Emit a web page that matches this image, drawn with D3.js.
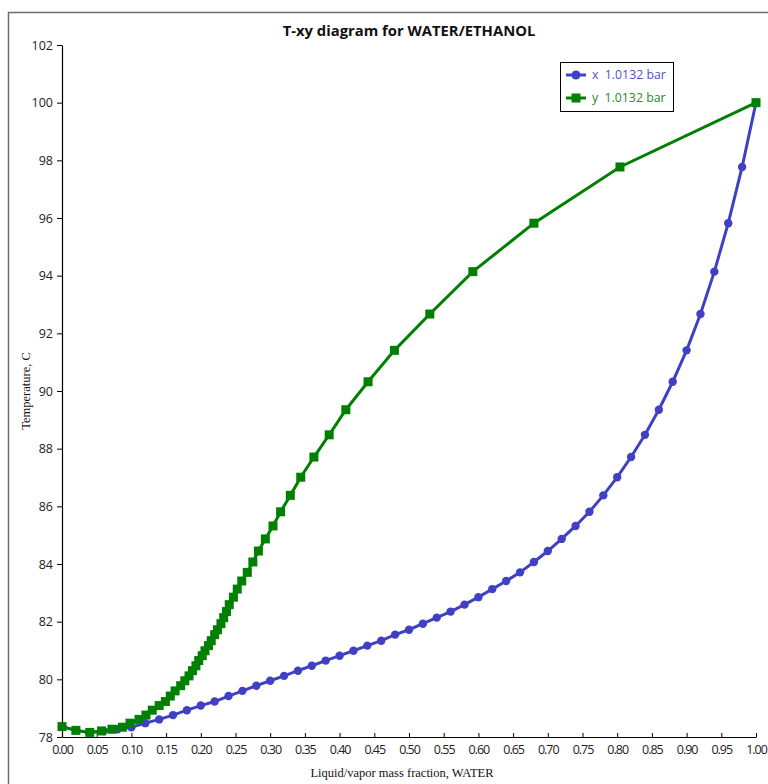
<!DOCTYPE html>
<html>
<head>
<meta charset="utf-8">
<script src="https://cdn.jsdelivr.net/npm/d3@7"></script>
<style>
  body { margin: 0; background: #fff; }
  svg { display: block; }
</style>
</head>
<body>
<div id="chart"></div>
<script>
// liquid mass fraction of water (x series)
const liquidFrac = [0.00, 0.02, 0.04, 0.06, 0.08, 0.10, 0.12, 0.14, 0.16, 0.18,
  0.20, 0.22, 0.24, 0.26, 0.28, 0.30, 0.32, 0.34, 0.36, 0.38,
  0.40, 0.42, 0.44, 0.46, 0.48, 0.50, 0.52, 0.54, 0.56, 0.58,
  0.60, 0.62, 0.64, 0.66, 0.68, 0.70, 0.72, 0.74, 0.76, 0.78,
  0.80, 0.82, 0.84, 0.86, 0.88, 0.90, 0.92, 0.94, 0.96, 0.98, 1.00];
// vapor mass fraction of water (y series), same temperatures
const vaporFrac = [0.000, 0.020, 0.040, 0.057, 0.072, 0.087, 0.098, 0.111, 0.121, 0.130,
  0.140, 0.149, 0.156, 0.163, 0.171, 0.177, 0.183, 0.188, 0.193, 0.197,
  0.202, 0.206, 0.211, 0.215, 0.220, 0.224, 0.229, 0.233, 0.237, 0.241,
  0.247, 0.2525, 0.259, 0.267, 0.275, 0.283, 0.293, 0.304, 0.315, 0.329,
  0.344, 0.363, 0.385, 0.409, 0.441, 0.479, 0.530, 0.592, 0.680, 0.804, 1.000];
// temperature, C
const temperature = [78.36, 78.23, 78.16, 78.21, 78.27, 78.34, 78.48, 78.61, 78.76, 78.93,
  79.09, 79.23, 79.42, 79.60, 79.78, 79.95, 80.12, 80.30, 80.47, 80.65,
  80.82, 80.99, 81.17, 81.34, 81.55, 81.72, 81.93, 82.14, 82.35, 82.59,
  82.85, 83.13, 83.41, 83.71, 84.07, 84.45, 84.87, 85.32, 85.81, 86.38,
  87.01, 87.71, 88.48, 89.35, 90.32, 91.41, 92.67, 94.14, 95.82, 97.77, 100.00];

const xTicks = [0, 0.05, 0.10, 0.15, 0.20, 0.25, 0.30, 0.35, 0.40, 0.45, 0.50,
  0.55, 0.60, 0.65, 0.70, 0.75, 0.80, 0.85, 0.90, 0.95, 1.00];
const yTicks = [78, 80, 82, 84, 86, 88, 90, 92, 94, 96, 98, 100, 102];

const seriesNames = ["x  1.0132 bar", "y  1.0132 bar"];
const seriesColors = ["#4040c4", "#008000"];

const W = 768, H = 784;
const margin = {top: 45, right: 12, bottom: 47, left: 62};

const svg = d3.select("#chart").append("svg")
  .attr("width", W)
  .attr("height", H);

// outer frame
svg.append("rect")
  .attr("x", 8.5).attr("y", 12.5)
  .attr("width", 820).attr("height", 820)
  .attr("fill", "none")
  .attr("stroke", "#6e6e6e")
  .attr("stroke-width", 1.5);

const x = d3.scaleLinear().domain([0, 1]).range([margin.left, W - margin.right]);
const y = d3.scaleLinear().domain([78, 102]).range([H - margin.bottom, margin.top]);

const sans = "'Open Sans', 'Noto Sans', sans-serif";
const serif = "'Liberation Serif', 'DejaVu Serif', serif";

// title
svg.append("text")
  .attr("x", (x(0) + x(1)) / 2)
  .attr("y", 36)
  .attr("text-anchor", "middle")
  .attr("font-family", sans)
  .attr("font-weight", "bold")
  .attr("font-size", "14.8px")
  .attr("fill", "#111")
  .text("T-xy diagram for WATER/ETHANOL");

// x axis
const xAxisG = svg.append("g")
  .attr("transform", `translate(0,${y(78)})`)
  .call(d3.axisBottom(x).tickValues(xTicks).tickSizeInner(-4).tickSizeOuter(0)
    .tickFormat(d3.format(".2f")));
xAxisG.select(".domain").attr("stroke", "#000").attr("stroke-width", 1.2);
xAxisG.selectAll(".tick line").attr("stroke", "#000");
xAxisG.selectAll("text")
  .attr("y", 8)
  .attr("dy", "0.71em")
  .attr("font-family", sans)
  .attr("font-size", "12.5px")
  .attr("letter-spacing", "-1px")
  .attr("fill", "#222");

// y axis
const yAxisG = svg.append("g")
  .attr("transform", `translate(${x(0)},0)`)
  .call(d3.axisLeft(y).tickValues(yTicks).tickSizeInner(5).tickSizeOuter(0));
yAxisG.select(".domain").attr("stroke", "#000").attr("stroke-width", 1.2);
yAxisG.selectAll(".tick line").attr("stroke", "#000");
yAxisG.selectAll("text")
  .attr("x", -9)
  .attr("font-family", sans)
  .attr("font-size", "12.5px")
  .attr("fill", "#222");

// axis titles
svg.append("text")
  .attr("x", 402)
  .attr("y", 777)
  .attr("text-anchor", "middle")
  .attr("font-family", serif)
  .attr("font-size", "12.5px")
  .attr("fill", "#111")
  .text("Liquid/vapor mass fraction, WATER");

svg.append("text")
  .attr("transform", `translate(30,${(y(78) + y(102)) / 2}) rotate(-90)`)
  .attr("text-anchor", "middle")
  .attr("font-family", serif)
  .attr("font-size", "12.5px")
  .attr("fill", "#111")
  .text("Temperature, C");

// series
const liquid = liquidFrac.map((v, i) => ({frac: v, t: temperature[i]}));
const vapor = vaporFrac.map((v, i) => ({frac: v, t: temperature[i]}));

const line = d3.line()
  .x(d => x(d.frac))
  .y(d => y(d.t));

const plot = svg.append("g");

plot.append("path")
  .datum(liquid)
  .attr("fill", "none")
  .attr("stroke", seriesColors[0])
  .attr("stroke-width", 3)
  .attr("d", line);
plot.selectAll("circle.liq").data(liquid)
  .join("circle")
  .attr("class", "liq")
  .attr("cx", d => x(d.frac))
  .attr("cy", d => y(d.t))
  .attr("r", 4.2)
  .attr("fill", seriesColors[0]);

plot.append("path")
  .datum(vapor)
  .attr("fill", "none")
  .attr("stroke", seriesColors[1])
  .attr("stroke-width", 3)
  .attr("d", line);
plot.selectAll("rect.vap").data(vapor)
  .join("rect")
  .attr("class", "vap")
  .attr("x", d => x(d.frac) - 4.5)
  .attr("y", d => y(d.t) - 4.5)
  .attr("width", 9)
  .attr("height", 9)
  .attr("fill", seriesColors[1]);

// legend
const legend = svg.append("g").attr("transform", "translate(560,62)");
legend.append("rect")
  .attr("x", 0.5).attr("y", 0.5)
  .attr("width", 113).attr("height", 49)
  .attr("fill", "#fff")
  .attr("stroke", "#000")
  .attr("stroke-width", 1);

seriesNames.forEach((name, i) => {
  const cy = 13 + i * 23;
  legend.append("line")
    .attr("x1", 6).attr("x2", 26)
    .attr("y1", cy).attr("y2", cy)
    .attr("stroke", seriesColors[i])
    .attr("stroke-width", 3);
  if (i === 0) {
    legend.append("circle")
      .attr("cx", 16).attr("cy", cy).attr("r", 4.5)
      .attr("fill", seriesColors[i]);
  } else {
    legend.append("rect")
      .attr("x", 11.5).attr("y", cy - 4.5)
      .attr("width", 9).attr("height", 9)
      .attr("fill", seriesColors[i]);
  }
  legend.append("text")
    .attr("x", 32)
    .attr("y", cy)
    .attr("dy", "0.35em")
    .attr("font-family", sans)
    .attr("font-size", "12.3px")
    .attr("fill", i === 0 ? "#5050c8" : "#1f8a1f")
    .attr("xml:space", "preserve")
    .style("white-space", "pre")
    .text(name);
});
</script>
</body>
</html>
